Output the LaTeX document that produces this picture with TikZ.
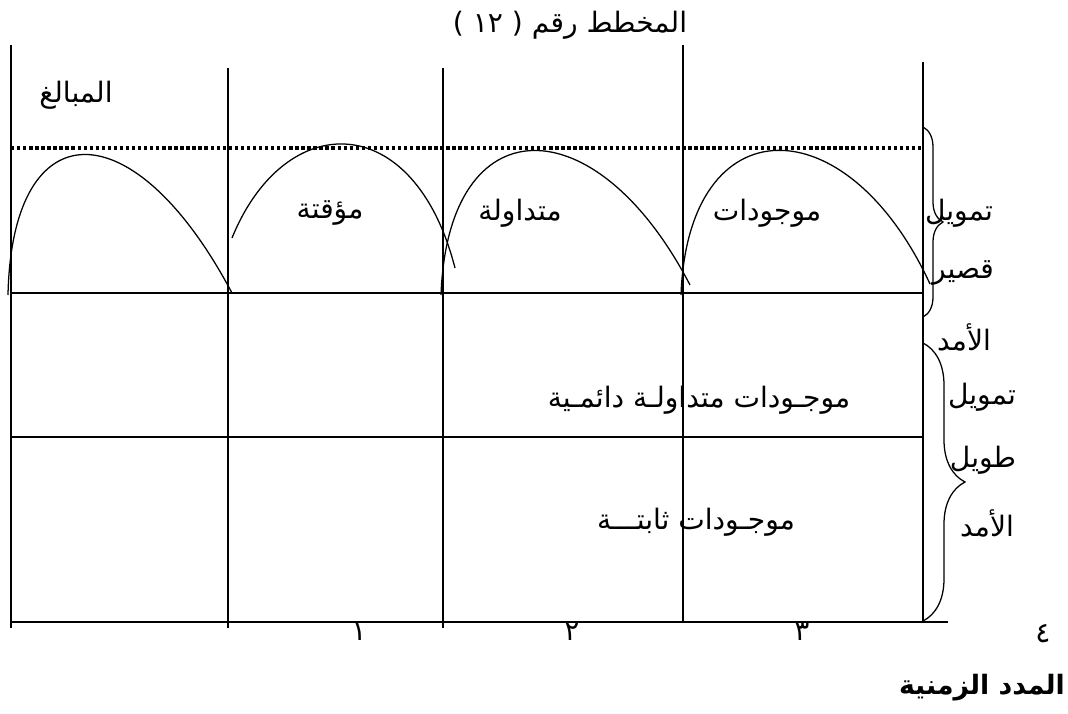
\documentclass[tikz,border=0pt]{standalone}
\usepackage{fontspec}
\newfontfamily\arabicfont[Script=Arabic]{DejaVu Sans}
\TeXXeTstate=1
\usetikzlibrary{decorations.pathreplacing}
\newcommand{\artxt}[1]{\beginR #1\endR}

\begin{document}
\begin{tikzpicture}[x=0.025cm, y=-0.025cm,
  every node/.style={font=\arabicfont\fontsize{20}{24}\selectfont, inner sep=0pt},
  gridline/.style={line width=1pt},
  rowline/.style={line width=1.4pt},
  levelline/.style={line width=2.6pt, dash pattern=on 2.4pt off 1.9pt},
  archline/.style={line width=0.9pt},
  bracket/.style={line width=0.9pt, decorate, decoration={brace, amplitude=#1}}]
\useasboundingbox (0,0) rectangle (1068,714);

% grid
\coordinate (p0t) at (11,45);   \coordinate (p0b) at (11,628);
\coordinate (p1t) at (228,68);  \coordinate (p1b) at (228,628);
\coordinate (p2t) at (443,68);  \coordinate (p2b) at (443,628);
\coordinate (p3t) at (683,45);  \coordinate (p3b) at (683,622);
\coordinate (p4t) at (923,62);  \coordinate (p4b) at (923,622);
\draw[gridline] (p0t) -- (p0b);
\draw[gridline] (p1t) -- (p1b);
\draw[gridline] (p2t) -- (p2b);
\draw[gridline] (p3t) -- (p3b);
\draw[gridline] (p4t) -- (p4b);

\coordinate (r1l) at (11,293);  \coordinate (r1r) at (923,293);
\coordinate (r2l) at (11,437);  \coordinate (r2r) at (923,437);
\coordinate (axl) at (11,622);  \coordinate (axr) at (948,622);
\draw[rowline] (r1l) -- (r1r);
\draw[rowline] (r2l) -- (r2r);
\draw[rowline] (axl) -- (axr);

% level of the amounts
\coordinate (lvl) at (11,148);  \coordinate (lvr) at (921,148);
\draw[levelline] (lvl) -- (lvr);

% arches
\draw[archline] (8,295) .. controls (12,108) and (134,108) .. (232,293);
\draw[archline] (232,238) .. controls (285,108) and (414,108) .. (455,268);
\draw[archline] (441,295) .. controls (448,104) and (596,104) .. (690,285);
\draw[archline] (681,295) .. controls (688,104) and (847,104) .. (930,284);

% braces
\coordinate (b1t) at (923,127);  \coordinate (b1b) at (923,317);
\coordinate (b2t) at (923,343);  \coordinate (b2b) at (923,621);
\draw[bracket=0.5cm] (b1t) -- (b1b);
\draw[bracket=1.05cm] (b2t) -- (b2b);

% texts
\node (title) at (570,25) {\artxt{المخطط رقم ( ١٢ )}};
\node (amounts) at (76,95) {\artxt{المبالغ}};
\node (temp) at (330,213) {\artxt{مؤقتة}};
\node (curr) at (520,213) {\artxt{متداولة}};
\node (assets) at (767,213) {\artxt{موجودات}};
\node (permcurr) at (699,400) {\artxt{موجـودات متداولـة دائمـية}};
\node (fixed) at (696,522) {\artxt{موجـودات ثابتـــة}};

\node (short1) at (959,213) {\artxt{تمويل}};
\node (short2) at (963,273) {\artxt{قصير}};
\node (short3) at (964,337) {\artxt{الأمد}};
\node (long1) at (982,397) {\artxt{تمويل}};
\node (long2) at (983,460) {\artxt{طويل}};
\node (long3) at (987,523) {\artxt{الأمد}};

\node (n1) at (359,632) {١};
\node (n2) at (572,632) {٢};
\node (n3) at (802,632) {٣};
\node (n4) at (1043,634) {٤};

\node[font=\arabicfont\bfseries\fontsize{19}{23}\selectfont] (periods) at (982,688) {\artxt{المدد الزمنية}};
\end{tikzpicture}
\end{document}
